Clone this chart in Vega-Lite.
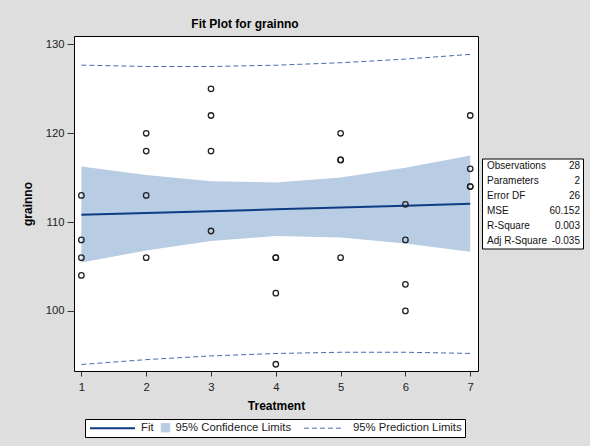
{
  "$schema": "https://vega.github.io/schema/vega-lite/v6.json",
  "background": "#dedede",
  "padding": {"left": 20, "top": 17, "right": 7, "bottom": 8},
  "config": {
    "font": "Liberation Sans",
    "view": {"stroke": "#000000", "fill": "#ffffff", "strokeWidth": 1},
    "axis": {"labelFontSize": 11.3, "labelColor": "#222222", "tickColor": "#333333", "domain": false, "grid": false, "titleFontSize": 12, "titleFontWeight": "bold", "titleColor": "#000000"}
  },
  "datasets": {
    "obs": [
      {"Treatment": 1, "grainno": 113}, {"Treatment": 1, "grainno": 108}, {"Treatment": 1, "grainno": 106}, {"Treatment": 1, "grainno": 104},
      {"Treatment": 2, "grainno": 120}, {"Treatment": 2, "grainno": 118}, {"Treatment": 2, "grainno": 113}, {"Treatment": 2, "grainno": 106},
      {"Treatment": 3, "grainno": 125}, {"Treatment": 3, "grainno": 122}, {"Treatment": 3, "grainno": 118}, {"Treatment": 3, "grainno": 109},
      {"Treatment": 4, "grainno": 106}, {"Treatment": 4, "grainno": 106}, {"Treatment": 4, "grainno": 102}, {"Treatment": 4, "grainno": 94},
      {"Treatment": 5, "grainno": 120}, {"Treatment": 5, "grainno": 117}, {"Treatment": 5, "grainno": 117}, {"Treatment": 5, "grainno": 106},
      {"Treatment": 6, "grainno": 112}, {"Treatment": 6, "grainno": 108}, {"Treatment": 6, "grainno": 103}, {"Treatment": 6, "grainno": 100},
      {"Treatment": 7, "grainno": 122}, {"Treatment": 7, "grainno": 116}, {"Treatment": 7, "grainno": 114}, {"Treatment": 7, "grainno": 114}
    ],
    "fit": [
      {"Treatment": 1, "Fit": 110.82, "LCLM": 105.45, "UCLM": 116.25, "LCL": 93.97, "UCL": 127.67},
      {"Treatment": 2, "Fit": 111.03, "LCLM": 106.8, "UCLM": 115.3, "LCL": 94.52, "UCL": 127.52},
      {"Treatment": 3, "Fit": 111.23, "LCLM": 107.88, "UCLM": 114.6, "LCL": 94.94, "UCL": 127.52},
      {"Treatment": 4, "Fit": 111.44, "LCLM": 108.43, "UCLM": 114.47, "LCL": 95.21, "UCL": 127.66},
      {"Treatment": 5, "Fit": 111.65, "LCLM": 108.28, "UCLM": 115.02, "LCL": 95.35, "UCL": 127.94},
      {"Treatment": 6, "Fit": 111.85, "LCLM": 107.6, "UCLM": 116.12, "LCL": 95.35, "UCL": 128.35},
      {"Treatment": 7, "Fit": 112.06, "LCLM": 106.65, "UCLM": 117.5, "LCL": 95.22, "UCL": 128.88}
    ],
    "stats": [
      {"stat": "Observations", "value": "28"},
      {"stat": "Parameters", "value": "2"},
      {"stat": "Error DF", "value": "26"},
      {"stat": "MSE", "value": "60.152"},
      {"stat": "R-Square", "value": "0.003"},
      {"stat": "Adj R-Square", "value": "-0.035"}
    ]
  },
  "hconcat": [
    {
      "width": 404,
      "height": 335,
      "title": {"text": "Fit Plot for grainno", "fontSize": 12, "fontWeight": "bold", "color": "#000000", "anchor": "middle", "dx": -31, "offset": 5},
      "layer": [
        {
          "data": {"name": "fit"},
          "mark": {"type": "area", "opacity": 1, "color": "#b8cce4"},
          "encoding": {
            "x": {"field": "Treatment", "type": "quantitative", "title": "Treatment",
              "scale": {"domain": [0.886, 7.12], "nice": false, "zero": false},
              "axis": {"values": [1, 2, 3, 4, 5, 6, 7], "format": "d", "tickSize": 5, "labelPadding": 5, "titlePadding": 8}},
            "y": {"field": "LCLM", "type": "quantitative", "title": "grainno",
              "scale": {"domain": [93.24, 130.95], "nice": false, "zero": false},
              "axis": {"values": [100, 110, 120, 130], "tickSize": 7, "labelPadding": 3, "titlePadding": 11}},
            "y2": {"field": "UCLM"}
          }
        },
        {
          "data": {"name": "fit"},
          "mark": {"type": "line", "strokeWidth": 1, "strokeDash": [5, 3], "color": "#4a6aaa"},
          "encoding": {
            "x": {"field": "Treatment", "type": "quantitative", "title": "Treatment"},
            "y": {"field": "LCL", "type": "quantitative", "title": "grainno"}
          }
        },
        {
          "data": {"name": "fit"},
          "mark": {"type": "line", "strokeWidth": 1, "strokeDash": [5, 3], "color": "#4a6aaa"},
          "encoding": {
            "x": {"field": "Treatment", "type": "quantitative", "title": "Treatment"},
            "y": {"field": "UCL", "type": "quantitative", "title": "grainno"}
          }
        },
        {
          "data": {"name": "fit"},
          "mark": {"type": "line", "strokeWidth": 2},
          "encoding": {
            "x": {"field": "Treatment", "type": "quantitative", "title": "Treatment"},
            "y": {"field": "Fit", "type": "quantitative", "title": "grainno"},
            "color": {"datum": "Fit", "type": "nominal",
              "scale": {"domain": ["Fit", "95% Confidence Limits", "95% Prediction Limits"], "range": ["#0d3b84", "#b8cce4", "#4a6aaa"]},
              "legend": {
                "title": null, "orient": "none", "legendX": 11, "legendY": 383, "direction": "horizontal",
                "strokeColor": "#000000", "fillColor": "#ffffff", "padding": 3, "columnPadding": 5,
                "labelFontSize": 11.3, "labelColor": "#222222", "symbolSize": 100,
                "encode": {
                  "symbols": {"update": {
                    "shape": {"signal": "datum.value === '95% Confidence Limits' ? 'square' : 'stroke'"},
                    "size": {"signal": "datum.value === 'Fit' ? 2025 : datum.value === '95% Confidence Limits' ? 72 : 1600"},
                    "x": {"signal": "datum.value === 'Fit' ? 24.5 : datum.value === '95% Confidence Limits' ? 4.5 : 27"},
                    "fill": {"signal": "datum.value === '95% Confidence Limits' ? '#b8cce4' : 'transparent'"},
                    "strokeWidth": {"signal": "datum.value === 'Fit' ? 2 : 1"},
                    "strokeDash": {"signal": "datum.value === '95% Prediction Limits' ? [5, 3] : [1, 0]"},
                    "opacity": {"value": 1}
                  }},
                  "labels": {"update": {
                    "x": {"signal": "datum.value === 'Fit' ? 53 : datum.value === '95% Confidence Limits' ? 14.5 : 56"}
                  }}
                }
              }}
          }
        },
        {
          "data": {"name": "obs"},
          "mark": {"type": "point", "shape": "circle", "filled": false, "stroke": "#222222", "strokeWidth": 1.3, "size": 30, "opacity": 1},
          "encoding": {
            "x": {"field": "Treatment", "type": "quantitative", "title": "Treatment"},
            "y": {"field": "grainno", "type": "quantitative", "title": "grainno"}
          }
        }
      ]
    },
    {
      "width": 101,
      "height": 90,
      "data": {"name": "stats"},
      "encoding": {"y": {"field": "stat", "type": "nominal", "sort": null, "axis": null}},
      "layer": [
        {
          "mark": {"type": "text", "align": "left", "dx": 5, "fontSize": 10, "color": "#111111"},
          "encoding": {
            "x": {"datum": 0, "type": "quantitative", "scale": {"domain": [0, 1]}, "axis": null},
            "text": {"field": "stat"}
          }
        },
        {
          "mark": {"type": "text", "align": "right", "dx": -3, "fontSize": 10, "color": "#111111"},
          "encoding": {
            "x": {"datum": 1, "type": "quantitative"},
            "text": {"field": "value"}
          }
        }
      ]
    }
  ],
  "spacing": 4,
  "bounds": "flush",
  "center": true
}
